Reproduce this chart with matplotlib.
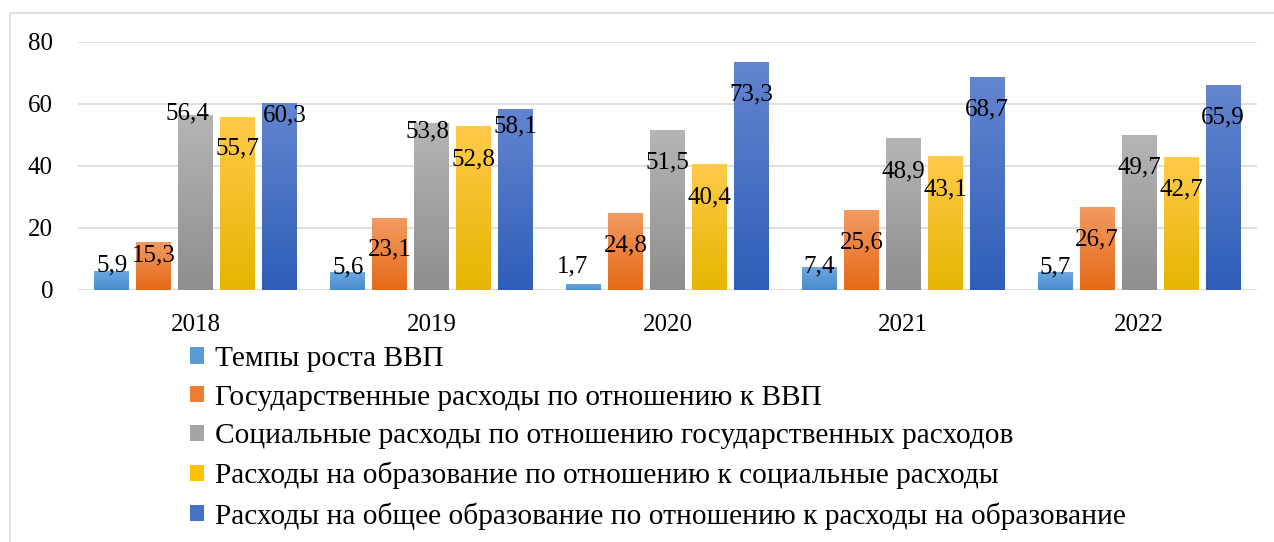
import numpy as np
import matplotlib
matplotlib.use("Agg")
import matplotlib.pyplot as plt
from matplotlib.colors import LinearSegmentedColormap
from matplotlib.patches import Rectangle, Patch

plt.rcParams['font.family'] = ['Liberation Serif', 'DejaVu Serif']

# Data
years = ['2018', '2019', '2020', '2021', '2022']
series_names = [
    'Темпы роста ВВП',
    'Государственные расходы по отношению к ВВП',
    'Социальные расходы по отношению государственных расходов',
    'Расходы на образование по отношению к социальные расходы',
    'Расходы на общее образование по отношению к расходы на образование',
]
gdp_growth = [5.9, 5.6, 1.7, 7.4, 5.7]
gov_spend = [15.3, 23.1, 24.8, 25.6, 26.7]
social_spend = [56.4, 53.8, 51.5, 48.9, 49.7]
edu_spend = [55.7, 52.8, 40.4, 43.1, 42.7]
general_edu = [60.3, 58.1, 73.3, 68.7, 65.9]
series_values = [gdp_growth, gov_spend, social_spend, edu_spend, general_edu]

# Styles: gradient (top, bottom) and legend colour
grad_colors = [
    ('#6CA8E2', '#4A8BCB'),
    ('#F29A62', '#E56A17'),
    ('#B5B5B5', '#8E8E8E'),
    ('#FFCA4A', '#E5B500'),
    ('#6385CF', '#2E5EB8'),
]
legend_colors = ['#5B9BD5', '#ED7D31', '#A5A5A5', '#FFC000', '#4472C4']

# label placement (pixels below bar top, positive = down; dx in pixels)
label_dy = [
    [-9, -7.5, -21, -3, -7],
    [10, 29, 30, 29, 29.5],
    [-4, 6, 30, 31, 29],
    [29, 31, 30, 31, 29],
    [10, 14.5, 29, 30, 29],
]
label_dx = [
    [0, 0, -11, 0, 0],
    [0, 0, 0, 0, 0],
    [-8, -4, 0, 0, 0],
    [0, 0, 0, 0, 0],
    [5, 0, 0, 0, 0],
]

fig = plt.figure(figsize=(12.74, 5.42), dpi=100)
ax = fig.add_axes([78 / 1274, 1 - 290 / 542, (1257 - 78) / 1274, 248 / 542])

x = np.arange(len(years))
width = 35 / 236
step = 42 / 236

for i, vals in enumerate(series_values):
    xpos = x + (i - 2) * step
    bars = ax.bar(xpos, vals, width=width, color='none', zorder=2)
    cmap = LinearSegmentedColormap.from_list('g%d' % i, [grad_colors[i][1], grad_colors[i][0]])
    grad = np.linspace(0, 1, 256).reshape(-1, 1)
    for j, b in enumerate(bars):
        x0 = b.get_x()
        h = b.get_height()
        ax.imshow(grad, extent=[x0, x0 + width, 0, h], origin='lower', cmap=cmap,
                  aspect='auto', zorder=2, interpolation='bilinear')
        ax.annotate(f'{vals[j]:.1f}'.replace('.', ','), (xpos[j], h),
                    xytext=(label_dx[i][j], -(label_dy[i][j] + 8.5)),
                    textcoords='offset pixels', ha='center', va='baseline',
                    fontsize=18, color='black', zorder=5)

ax.set_xlim(-0.5, len(years) - 0.5)
ax.set_ylim(0, 80)
ax.set_yticks([0, 20, 40, 60, 80])
ax.set_xticks(x)
ax.set_xticklabels(years)
ax.tick_params(axis='both', length=0, labelsize=18)
ax.tick_params(axis='y', pad=18)
ax.tick_params(axis='x', pad=17)
ax.grid(axis='y', color='#D9D9D9', linewidth=1.2, zorder=0)
ax.set_axisbelow(True)
for s in ax.spines.values():
    s.set_visible(False)

# chart frame
fig.patches.append(Rectangle((10 / 1274, -0.1), 1.2, 1.1 - 12.5 / 542, transform=fig.transFigure,
                             fill=False, edgecolor='#D9D9D9', linewidth=1.2))

handles = [Patch(facecolor=c, edgecolor='none') for c in legend_colors]
fig.legend(handles, series_names, loc='upper left', bbox_to_anchor=(190 / 1274, 1 - 346 / 542),
           frameon=False, fontsize=21.2, handlelength=0.48, handleheight=0.48,
           handletextpad=0.38, labelspacing=0.43, borderpad=0, borderaxespad=0)

fig.savefig('out.png', dpi=100)
